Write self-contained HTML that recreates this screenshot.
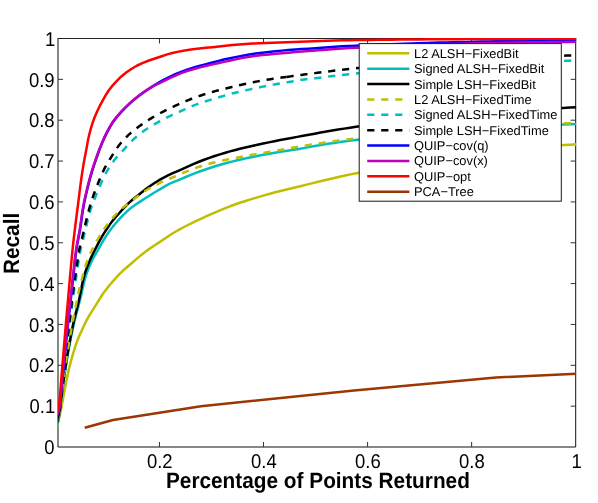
<!DOCTYPE html>
<html lang="en">
<head>
<meta charset="utf-8">
<title>Recall vs Percentage of Points Returned</title>
<style>
html,body{margin:0;padding:0;background:#ffffff;}
body{width:598px;height:503px;overflow:hidden;font-family:"Liberation Sans",sans-serif;}
svg{display:block;will-change:transform;}
text{text-rendering:geometricPrecision;}
</style>
</head>
<body>
<svg width="598" height="503" viewBox="0 0 598 503">
<defs><clipPath id="ax"><rect x="58.00" y="38.00" width="518.20" height="409.50"/></clipPath></defs>
<rect width="598" height="503" fill="#ffffff"/>
<g stroke="#000000" stroke-width="1" fill="none" stroke-opacity="1">
<path d="M58.00 38.00 V447.00 H575.70 V38.00" stroke="#000000" stroke-width="1" stroke-opacity="0.94" stroke-linejoin="miter"/>
<path d="M58.00 38.50 H576.20" stroke="#222222" stroke-width="1"/>
<path d="M58.00 406.15 h5.00 M575.70 406.15 h-5.00 M58.00 365.30 h5.00 M575.70 365.30 h-5.00 M58.00 324.45 h5.00 M575.70 324.45 h-5.00 M58.00 283.60 h5.00 M575.70 283.60 h-5.00 M58.00 242.75 h5.00 M575.70 242.75 h-5.00 M58.00 201.90 h5.00 M575.70 201.90 h-5.00 M58.00 161.05 h5.00 M575.70 161.05 h-5.00 M58.00 120.20 h5.00 M575.70 120.20 h-5.00 M58.00 79.35 h5.00 M575.70 79.35 h-5.00 M159.46 447.00 v-5.00 M159.46 38.50 v5.00 M263.52 447.00 v-5.00 M263.52 38.50 v5.00 M367.58 447.00 v-5.00 M367.58 38.50 v5.00 M471.64 447.00 v-5.00 M471.64 38.50 v5.00" stroke="#333333"/>
</g>
<g clip-path="url(#ax)" fill="none" stroke-width="2.50" stroke-linejoin="round">
<path d="M55.60 433.50 L55.83 432.45 L56.16 430.91 L56.56 429.11 L57.00 427.12 L57.49 424.98 L58.02 422.70 L58.58 420.31 L59.17 417.82 L59.75 415.22 L60.32 412.53 L60.90 409.75 L61.47 406.90 L62.04 403.96 L62.62 400.96 L63.19 397.89 L63.74 394.75 L64.31 391.55 L64.92 388.30 L65.56 385.00 L66.24 381.66 L66.94 378.26 L67.68 374.83 L68.45 371.34 L69.26 367.82 L70.13 364.27 L71.07 360.70 L72.08 357.09 L73.15 353.46 L74.26 349.80 L75.42 346.11 L76.69 342.41 L78.11 338.74 L79.68 335.08 L81.30 331.40 L83.00 327.72 L84.77 324.04 L86.61 320.35 L88.57 316.69 L90.76 313.12 L93.04 309.57 L95.28 305.96 L97.54 302.31 L99.83 298.66 L102.15 294.98 L104.64 291.40 L107.33 287.91 L110.15 284.49 L113.05 281.10 L116.05 277.75 L119.15 274.46 L122.37 271.28 L125.75 268.20 L129.22 265.19 L132.75 262.19 L136.29 259.17 L139.86 256.14 L143.50 253.18 L147.27 250.35 L151.17 247.65 L155.15 245.01 L159.16 242.36 L163.16 239.67 L167.18 236.95 L171.25 234.29 L175.42 231.76 L179.69 229.35 L184.04 227.02 L188.46 224.76 L192.93 222.55 L197.43 220.38 L201.98 218.27 L206.58 216.19 L211.22 214.16 L215.89 212.16 L220.60 210.17 L225.33 208.20 L230.11 206.29 L234.95 204.49 L239.85 202.80 L244.80 201.20 L249.80 199.66 L254.82 198.14 L259.86 196.64 L264.93 195.16 L270.04 193.72 L275.17 192.33 L280.34 191.02 L285.55 189.76 L290.78 188.51 L296.02 187.25 L301.28 185.96 L306.55 184.65 L311.84 183.34 L317.15 182.04 L322.48 180.76 L327.83 179.51 L333.21 178.27 L338.60 177.03 L344.02 175.82 L349.46 174.64 L354.93 173.50 L360.42 172.43 L365.94 171.38 L371.47 170.36 L377.03 169.34 L382.61 168.34 L388.21 167.36 L393.83 166.39 L399.46 165.44 L405.12 164.51 L410.80 163.59 L416.49 162.69 L422.20 161.81 L427.93 160.94 L433.68 160.10 L439.44 159.27 L445.22 158.46 L451.01 157.66 L456.82 156.89 L462.66 156.15 L468.51 155.42 L474.38 154.71 L480.26 154.02 L486.17 153.34 L492.08 152.67 L498.02 152.01 L503.97 151.35 L509.93 150.70 L515.91 150.05 L521.90 149.39 L527.90 148.72 L533.92 148.04 L539.95 147.36 L545.99 146.71 L552.06 146.11 L558.14 145.56 L564.24 145.08 L570.36 144.66 L576.50 144.30" stroke="#bfbf00"/>
<path d="M55.60 430.50 L55.93 429.40 L56.41 427.80 L56.93 425.91 L57.47 423.82 L58.04 421.55 L58.60 419.13 L59.12 416.57 L59.54 413.89 L59.90 411.09 L60.22 408.19 L60.53 405.18 L60.85 402.10 L61.23 398.95 L61.64 395.73 L62.07 392.44 L62.51 389.08 L62.98 385.66 L63.46 382.18 L63.96 378.65 L64.49 375.06 L65.04 371.42 L65.61 367.73 L66.21 363.99 L66.83 360.20 L67.48 356.37 L68.15 352.50 L68.86 348.59 L69.59 344.63 L70.35 340.64 L71.14 336.61 L71.97 332.54 L72.84 328.44 L73.75 324.32 L74.74 320.17 L75.80 316.00 L76.91 311.80 L78.04 307.57 L79.16 303.30 L80.25 298.98 L81.27 294.61 L82.25 290.19 L83.25 285.74 L84.32 281.29 L85.54 276.86 L86.98 272.45 L88.65 268.07 L90.51 263.73 L92.54 259.47 L94.84 255.30 L97.26 251.14 L99.64 246.94 L102.03 242.70 L104.53 238.51 L107.20 234.40 L110.04 230.35 L113.04 226.40 L116.24 222.56 L119.60 218.83 L123.09 215.19 L126.73 211.64 L130.56 208.31 L134.67 205.27 L138.96 202.40 L143.27 199.55 L147.66 196.77 L152.08 194.00 L156.55 191.26 L161.07 188.57 L165.65 185.90 L170.34 183.44 L175.24 181.32 L180.21 179.31 L185.17 177.23 L190.16 175.15 L195.20 173.16 L200.30 171.27 L205.46 169.45 L210.67 167.70 L215.92 166.05 L221.22 164.49 L226.57 163.01 L231.97 161.60 L237.39 160.27 L242.86 159.02 L248.37 157.83 L253.91 156.68 L259.46 155.56 L265.05 154.46 L270.66 153.41 L276.31 152.43 L281.99 151.55 L287.69 150.71 L293.42 149.85 L299.14 148.91 L304.88 147.89 L310.63 146.84 L316.39 145.79 L322.18 144.78 L328.00 143.85 L333.85 142.96 L339.72 142.10 L345.62 141.27 L351.54 140.49 L357.48 139.77 L363.44 139.11 L369.42 138.47 L375.42 137.86 L381.44 137.26 L387.49 136.69 L393.55 136.13 L399.63 135.59 L405.73 135.06 L411.84 134.54 L417.98 134.03 L424.13 133.54 L430.30 133.04 L436.48 132.56 L442.68 132.07 L448.89 131.59 L455.12 131.10 L461.37 130.62 L467.63 130.14 L473.91 129.67 L480.20 129.21 L486.51 128.75 L492.84 128.31 L499.18 127.88 L505.54 127.47 L511.91 127.07 L518.30 126.70 L524.71 126.34 L531.13 125.99 L537.56 125.65 L544.01 125.33 L550.48 125.01 L556.96 124.71 L563.46 124.43 L569.97 124.16 L576.50 123.90" stroke="#00bfbf"/>
<path d="M55.60 427.00 L55.95 425.90 L56.45 424.29 L57.03 422.40 L57.67 420.31 L58.39 418.06 L59.06 415.65 L59.53 413.09 L59.90 410.38 L60.21 407.54 L60.50 404.60 L60.82 401.57 L61.19 398.47 L61.59 395.29 L62.00 392.04 L62.43 388.72 L62.87 385.34 L63.34 381.89 L63.82 378.39 L64.33 374.82 L64.85 371.20 L65.39 367.53 L65.96 363.81 L66.55 360.03 L67.16 356.21 L67.80 352.35 L68.47 348.45 L69.17 344.50 L69.90 340.51 L70.67 336.48 L71.47 332.42 L72.30 328.32 L73.17 324.19 L74.12 320.04 L75.13 315.86 L76.18 311.64 L77.24 307.40 L78.28 303.11 L79.27 298.77 L80.18 294.37 L81.04 289.92 L81.92 285.44 L82.87 280.96 L83.97 276.49 L85.30 272.05 L86.87 267.62 L88.60 263.22 L90.47 258.87 L92.55 254.57 L94.71 250.27 L96.87 245.94 L99.09 241.61 L101.48 237.34 L104.09 233.17 L106.80 229.02 L109.57 224.87 L112.54 220.86 L115.78 217.01 L119.16 213.24 L122.57 209.46 L126.05 205.71 L129.72 202.13 L133.64 198.79 L137.72 195.57 L141.82 192.33 L145.93 189.09 L150.15 185.96 L154.53 183.00 L159.05 180.21 L163.71 177.63 L168.50 175.22 L173.37 172.96 L178.34 170.83 L183.29 168.61 L188.23 166.32 L193.22 164.09 L198.30 162.01 L203.44 160.02 L208.64 158.11 L213.89 156.30 L219.19 154.59 L224.54 152.96 L229.95 151.41 L235.39 149.95 L240.88 148.58 L246.41 147.29 L251.97 146.04 L257.55 144.80 L263.15 143.56 L268.78 142.35 L274.44 141.17 L280.12 140.06 L285.84 138.99 L291.58 137.93 L297.33 136.87 L303.10 135.79 L308.89 134.71 L314.71 133.65 L320.54 132.60 L326.40 131.58 L332.27 130.58 L338.17 129.60 L344.09 128.62 L350.03 127.65 L356.00 126.73 L361.99 125.89 L368.00 125.09 L374.03 124.31 L380.09 123.54 L386.16 122.79 L392.25 122.06 L398.37 121.34 L404.50 120.64 L410.65 119.96 L416.82 119.29 L423.01 118.64 L429.21 118.00 L435.44 117.39 L441.67 116.78 L447.93 116.19 L454.20 115.62 L460.49 115.06 L466.80 114.51 L473.12 113.98 L479.46 113.47 L485.82 112.96 L492.20 112.47 L498.59 112.00 L505.00 111.53 L511.42 111.08 L517.86 110.64 L524.31 110.22 L530.78 109.80 L537.27 109.39 L543.77 108.99 L550.28 108.61 L556.81 108.24 L563.36 107.88 L569.92 107.53 L576.50 107.20" stroke="#000000"/>
<path d="M55.60 428.00 L55.69 427.72 L55.83 427.32 L55.98 426.84 L56.15 426.32 L56.33 425.75 L56.52 425.14 L56.72 424.51 L56.92 423.84 L57.12 423.15 L57.32 422.43 L57.53 421.69 L57.74 420.93 L57.96 420.15 L58.18 419.34 L58.39 418.52 L58.60 417.68 L58.80 416.83 L58.99 415.95 L59.16 415.06 L59.30 414.15 L59.44 413.23 L59.57 412.28 L59.69 411.33 L59.81 410.36 L59.92 409.37 L60.03 408.37 L60.13 407.36 L60.23 406.34 L60.34 405.30 L60.44 404.26 L60.55 403.20 L60.66 402.14 L60.78 401.06 L60.90 399.98 L61.03 398.89 L61.17 397.79 L61.30 396.68 L61.44 395.57 L61.58 394.44 L61.72 393.30 L61.86 392.16 L62.00 391.01 L62.15 389.85 L62.30 388.68 L62.45 387.50 L62.60 386.32 L62.75 385.13 L62.91 383.93 L63.07 382.72 L63.22 381.51 L63.39 380.29 L63.55 379.06 L63.72 377.82 L63.88 376.58 L64.05 375.33 L64.23 374.08 L64.40 372.82 L64.58 371.55 L64.76 370.28 L64.94 368.99 L65.12 367.71 L65.31 366.41 L65.50 365.12 L65.69 363.81 L65.88 362.50 L66.08 361.18 L66.28 359.86 L66.48 358.53 L66.68 357.20 L66.88 355.86 L67.09 354.51 L67.30 353.16 L67.51 351.80 L67.73 350.44 L67.95 349.08 L68.17 347.71 L68.40 346.33 L68.62 344.95 L68.86 343.56 L69.09 342.17 L69.33 340.77 L69.57 339.37 L69.82 337.97 L70.07 336.56 L70.32 335.14 L70.57 333.72 L70.82 332.30 L71.08 330.87 L71.34 329.43 L71.60 328.00 L71.87 326.55 L72.14 325.11 L72.41 323.66 L72.69 322.20 L72.96 320.74 L73.24 319.27 L73.51 317.80 L73.80 316.33 L74.08 314.85 L74.36 313.37 L74.65 311.88 L74.94 310.39 L75.23 308.90 L75.52 307.40 L75.82 305.90 L76.11 304.39 L76.40 302.88 L76.70 301.36 L77.00 299.84 L77.30 298.32 L77.62 296.79 L77.94 295.26 L78.28 293.74 L78.62 292.20 L78.98 290.67 L79.34 289.13 L79.71 287.59 L80.08 286.05 L80.47 284.51 L80.85 282.96 L81.24 281.41 L81.64 279.86 L82.03 278.30 L82.42 276.73 L82.82 275.16 L83.22 273.59 L83.63 272.02 L84.06 270.46 L84.52 268.89 L84.99 267.34 L85.50 265.79 L86.04 264.24 L86.60 262.70 L87.19 261.15 L87.81 259.62 L88.44 258.08 L89.09 256.55 L89.75 255.02 L90.43 253.50 L91.11 251.97 L91.81 250.46 L92.54 248.95 L93.29 247.44 L94.06 245.94 L94.85 244.44 L95.65 242.95 L96.46 241.47 L97.29 239.99 L98.13 238.51 L98.99 237.03 L99.87 235.56 L100.76 234.09 L101.67 232.64 L102.60 231.19 L103.55 229.76 L104.53 228.34 L105.53 226.94 L106.55 225.54 L107.60 224.15 L108.67 222.77 L109.76 221.41 L110.87 220.06 L111.99 218.72 L113.14 217.40 L114.31 216.09 L115.50 214.79 L116.71 213.50 L117.94 212.23 L119.20 210.99 L120.48 209.77 L121.79 208.59 L123.14 207.44 L124.51 206.31 L125.91 205.21 L127.33 204.11 L128.76 203.03 L130.20 201.94 L131.63 200.86 L133.05 199.76 L134.48 198.65 L135.91 197.54 L137.35 196.43 L138.79 195.33 L140.25 194.25 L141.72 193.19 L143.22 192.16 L144.73 191.16 L146.27 190.20 L147.83 189.27 L149.42 188.36 L151.03 187.47 L152.65 186.60 L154.29 185.74 L155.94 184.90 L157.59 184.08 L159.25 183.27 L160.92 182.48 L162.60 181.70 L164.30 180.94 L166.00 180.20 L167.71 179.46 L169.43 178.74 L171.16 178.01 L172.88 177.29 L174.61 176.56 L176.34 175.83 L178.07 175.09 L179.80 174.35 L181.53 173.60 L183.27 172.86 L185.01 172.12 L186.76 171.39 L188.52 170.68 L190.28 169.98 L192.06 169.30 L193.84 168.65 L195.63 168.02 L197.43 167.40 L199.25 166.80 L201.07 166.21 L202.90 165.63 L204.73 165.06 L206.58 164.51 L208.43 163.97 L210.29 163.46 L212.15 162.95 L214.02 162.47 L215.89 162.01 L217.77 161.56 L219.66 161.13 L221.56 160.72 L223.46 160.32 L225.37 159.93 L227.29 159.54 L229.20 159.17 L231.12 158.79 L233.05 158.42 L234.97 158.04 L236.90 157.67 L238.82 157.30 L240.76 156.94 L242.69 156.58 L244.63 156.22 L246.58 155.87 L248.52 155.52 L250.47 155.17 L252.42 154.82 L254.37 154.47 L256.33 154.12 L258.28 153.77 L260.25 153.42 L262.21 153.08 L264.18 152.74 L266.14 152.40 L268.12 152.05 L270.09 151.71 L272.06 151.37 L274.04 151.02 L276.02 150.67 L278.00 150.32 L279.98 149.96 L281.97 149.61 L283.96 149.25 L285.95 148.89 L287.94 148.53 L289.93 148.18 L291.93 147.83 L293.93 147.48 L295.94 147.14 L297.94 146.80 L299.95 146.47 L301.96 146.13 L303.98 145.80 L306.00 145.46 L308.02 145.13 L310.04 144.81 L312.06 144.48 L314.09 144.16 L316.12 143.84 L318.16 143.52 L320.19 143.21 L322.23 142.90 L324.27 142.60 L326.32 142.30 L328.36 142.00 L330.41 141.71 L332.46 141.42 L334.52 141.13 L336.58 140.84 L338.64 140.55 L340.70 140.27 L342.77 139.99 L344.83 139.72 L346.90 139.45 L348.98 139.18 L351.05 138.92 L353.13 138.67 L355.21 138.43 L357.30 138.19 L359.39 137.96 L361.47 137.73 L363.57 137.51 L365.66 137.29 L367.76 137.07 L369.86 136.85 L371.96 136.64 L374.06 136.43 L376.17 136.22 L378.28 136.01 L380.39 135.80 L382.50 135.60 L384.62 135.40 L386.74 135.20 L388.86 135.00 L390.98 134.81 L393.11 134.61 L395.23 134.42 L397.36 134.23 L399.49 134.04 L400.00 133.99" stroke="#bfbf00" stroke-dasharray="7.2 6.8" stroke-dashoffset="4.10"/>
<path d="M400.00 133.99 L401.63 133.85 L403.76 133.67 L405.90 133.48 L408.04 133.30 L410.19 133.12 L412.33 132.94 L414.48 132.76 L416.63 132.58 L418.78 132.41 L420.93 132.23 L423.09 132.06 L425.25 131.89 L427.40 131.72 L429.57 131.55 L431.73 131.38 L433.90 131.21 L436.06 131.05 L438.23 130.88 L440.40 130.72 L442.58 130.55 L444.75 130.39 L446.93 130.23 L449.11 130.07 L451.29 129.91 L453.47 129.75 L455.65 129.59 L457.84 129.43 L460.03 129.27 L462.22 129.12 L464.41 128.96 L466.61 128.81 L468.81 128.66 L471.00 128.50 L473.21 128.35 L475.41 128.20 L477.61 128.06 L479.82 127.91 L482.03 127.76 L484.24 127.62 L486.45 127.48 L488.67 127.34 L490.88 127.20 L493.10 127.06 L495.32 126.92 L497.54 126.78 L499.77 126.65 L501.99 126.52 L504.22 126.38 L506.45 126.25 L508.68 126.13 L510.92 126.00 L513.15 125.87 L515.39 125.75 L517.63 125.63 L519.87 125.51 L522.11 125.39 L524.36 125.27 L526.61 125.15 L528.85 125.04 L531.10 124.92 L533.36 124.81 L535.61 124.70 L537.87 124.59 L540.12 124.48 L542.38 124.37 L544.65 124.26 L546.91 124.15 L549.17 124.05 L551.44 123.94 L553.71 123.84 L555.98 123.74 L558.25 123.64 L560.53 123.54 L562.80 123.45 L565.08 123.35 L567.36 123.26 L569.64 123.17 L571.93 123.08 L574.21 122.99 L576.50 122.90" stroke="#bfbf00" stroke-dasharray="7.2 6.8" stroke-dashoffset="3.74"/>
<path d="M55.60 425.30 L55.70 425.00 L55.84 424.56 L56.01 424.05 L56.19 423.48 L56.39 422.87 L56.59 422.22 L56.80 421.53 L57.01 420.81 L57.23 420.06 L57.44 419.29 L57.67 418.49 L57.91 417.66 L58.15 416.82 L58.39 415.95 L58.63 415.07 L58.85 414.16 L59.05 413.23 L59.22 412.29 L59.37 411.32 L59.50 410.34 L59.63 409.34 L59.75 408.32 L59.86 407.29 L59.97 406.24 L60.07 405.18 L60.16 404.10 L60.26 403.01 L60.35 401.90 L60.43 400.78 L60.52 399.65 L60.61 398.51 L60.69 397.35 L60.78 396.19 L60.87 395.01 L60.96 393.83 L61.06 392.63 L61.17 391.43 L61.28 390.22 L61.40 389.00 L61.52 387.77 L61.64 386.53 L61.77 385.29 L61.89 384.03 L62.02 382.77 L62.15 381.49 L62.28 380.21 L62.42 378.92 L62.55 377.62 L62.69 376.32 L62.84 375.00 L62.98 373.68 L63.13 372.35 L63.28 371.02 L63.44 369.68 L63.60 368.33 L63.76 366.97 L63.93 365.60 L64.10 364.23 L64.28 362.85 L64.46 361.47 L64.64 360.08 L64.82 358.68 L65.01 357.28 L65.20 355.86 L65.39 354.45 L65.59 353.02 L65.78 351.59 L65.98 350.16 L66.18 348.71 L66.38 347.27 L66.59 345.81 L66.81 344.35 L67.02 342.89 L67.24 341.41 L67.46 339.94 L67.69 338.45 L67.91 336.97 L68.13 335.47 L68.34 333.97 L68.56 332.46 L68.77 330.95 L68.98 329.43 L69.18 327.90 L69.38 326.37 L69.58 324.83 L69.77 323.28 L69.97 321.73 L70.16 320.18 L70.35 318.62 L70.55 317.05 L70.74 315.48 L70.94 313.90 L71.14 312.32 L71.34 310.74 L71.55 309.15 L71.76 307.55 L71.97 305.95 L72.18 304.35 L72.39 302.73 L72.60 301.12 L72.82 299.50 L73.03 297.88 L73.26 296.25 L73.48 294.61 L73.71 292.98 L73.94 291.33 L74.17 289.69 L74.41 288.04 L74.66 286.39 L74.91 284.73 L75.16 283.07 L75.42 281.40 L75.68 279.73 L75.94 278.06 L76.20 276.38 L76.47 274.69 L76.74 273.01 L77.01 271.32 L77.28 269.62 L77.54 267.92 L77.81 266.21 L78.07 264.50 L78.33 262.79 L78.60 261.07 L78.87 259.35 L79.15 257.62 L79.44 255.89 L79.74 254.17 L80.05 252.44 L80.38 250.71 L80.73 248.98 L81.11 247.25 L81.52 245.53 L81.95 243.80 L82.39 242.07 L82.84 240.34 L83.29 238.60 L83.74 236.86 L84.17 235.12 L84.60 233.36 L85.01 231.61 L85.43 229.84 L85.84 228.08 L86.25 226.31 L86.68 224.53 L87.11 222.76 L87.55 220.99 L88.00 219.21 L88.45 217.42 L88.91 215.64 L89.38 213.85 L89.87 212.07 L90.39 210.30 L90.95 208.53 L91.54 206.78 L92.18 205.03 L92.84 203.28 L93.53 201.54 L94.23 199.80 L94.94 198.06 L95.65 196.31 L96.35 194.57 L97.06 192.82 L97.78 191.07 L98.50 189.32 L99.24 187.57 L99.99 185.82 L100.75 184.08 L101.54 182.34 L102.33 180.60 L103.14 178.86 L103.96 177.11 L104.79 175.38 L105.66 173.66 L106.56 171.95 L107.50 170.28 L108.48 168.62 L109.52 166.99 L110.59 165.36 L111.71 163.76 L112.85 162.18 L114.03 160.61 L115.22 159.07 L116.45 157.56 L117.73 156.08 L119.04 154.62 L120.38 153.17 L121.73 151.73 L123.09 150.29 L124.44 148.84 L125.78 147.39 L127.12 145.92 L128.47 144.46 L129.84 143.00 L131.22 141.57 L132.63 140.17 L134.08 138.80 L135.56 137.47 L137.08 136.16 L138.63 134.88 L140.21 133.62 L141.82 132.39 L143.44 131.20 L145.09 130.04 L146.76 128.92 L148.46 127.83 L150.19 126.77 L151.95 125.73 L153.71 124.71 L155.48 123.70 L157.26 122.70 L159.04 121.70 L160.84 120.72 L162.64 119.75 L164.46 118.79 L166.29 117.85 L168.12 116.93 L169.97 116.02 L171.83 115.14 L173.71 114.28 L175.60 113.43 L177.49 112.59 L179.39 111.76 L181.29 110.92 L183.19 110.06 L185.09 109.20 L186.98 108.33 L188.89 107.46 L190.80 106.62 L192.73 105.80 L194.67 105.04 L196.63 104.31 L198.61 103.61 L200.61 102.94 L202.61 102.28 L204.63 101.64 L206.64 101.00 L208.66 100.36 L210.68 99.73 L212.71 99.12 L214.74 98.51 L216.78 97.91 L218.83 97.31 L220.87 96.72 L222.92 96.13 L224.97 95.54 L227.03 94.95 L229.09 94.37 L231.16 93.80 L233.23 93.25 L235.32 92.72 L237.41 92.22 L239.50 91.73 L241.61 91.25 L243.72 90.78 L245.83 90.32 L247.94 89.85 L250.05 89.37 L252.17 88.90 L254.29 88.43 L256.42 87.97 L258.55 87.51 L260.68 87.07 L262.82 86.64 L264.96 86.21 L267.11 85.80 L269.26 85.40 L271.42 85.00 L273.57 84.61 L275.74 84.22 L277.90 83.84 L280.07 83.47 L282.25 83.10 L284.42 82.74 L286.60 82.38 L288.78 82.02 L290.97 81.65 L293.15 81.28 L295.34 80.91 L297.53 80.54 L299.72 80.18 L301.92 79.84 L304.13 79.53 L306.34 79.24 L308.55 78.97 L310.77 78.70 L313.00 78.45 L315.22 78.19 L317.45 77.92 L319.67 77.64 L321.90 77.35 L324.13 77.06 L326.36 76.77 L328.60 76.48 L330.84 76.20 L333.08 75.94 L335.32 75.67 L337.57 75.42 L339.82 75.16 L342.08 74.91 L344.33 74.67 L346.59 74.43 L348.85 74.20 L351.12 73.97 L353.39 73.74 L355.66 73.52 L357.93 73.30 L360.20 73.09 L362.48 72.87 L364.76 72.65 L367.04 72.43 L369.33 72.22 L371.61 72.00 L373.90 71.78 L376.19 71.56 L378.49 71.35 L380.78 71.13 L383.08 70.92 L385.38 70.70 L387.68 70.49 L389.98 70.28 L392.29 70.07 L394.60 69.87 L396.91 69.66 L399.23 69.46 L400.00 69.39" stroke="#00bfbf" stroke-dasharray="7.2 6.8" stroke-dashoffset="-5.50"/>
<path d="M400.00 69.39 L401.54 69.26 L403.86 69.07 L406.18 68.87 L408.50 68.68 L410.83 68.50 L413.16 68.31 L415.49 68.13 L417.82 67.96 L420.15 67.79 L422.49 67.62 L424.83 67.45 L427.17 67.29 L429.52 67.12 L431.86 66.96 L434.21 66.79 L436.56 66.63 L438.91 66.47 L441.27 66.31 L443.63 66.15 L445.99 66.00 L448.35 65.84 L450.71 65.69 L453.08 65.53 L455.45 65.38 L457.82 65.24 L460.19 65.09 L462.57 64.94 L464.94 64.80 L467.32 64.66 L469.70 64.52 L472.09 64.39 L474.47 64.25 L476.86 64.12 L479.25 63.99 L481.64 63.87 L484.03 63.75 L486.43 63.62 L488.83 63.51 L491.23 63.39 L493.63 63.28 L496.03 63.17 L498.44 63.07 L500.85 62.96 L503.26 62.86 L505.67 62.76 L508.08 62.66 L510.50 62.57 L512.92 62.47 L515.34 62.37 L517.76 62.28 L520.19 62.18 L522.61 62.09 L525.04 62.00 L527.47 61.91 L529.90 61.82 L532.34 61.74 L534.77 61.65 L537.21 61.57 L539.65 61.48 L542.10 61.40 L544.54 61.33 L546.99 61.25 L549.44 61.17 L551.89 61.10 L554.34 61.03 L556.79 60.96 L559.25 60.90 L561.71 60.83 L564.17 60.77 L566.63 60.71 L569.10 60.66 L571.56 60.60 L574.03 60.55 L576.50 60.50" stroke="#00bfbf" stroke-dasharray="7.2 6.8" stroke-dashoffset="3.65"/>
<path d="M55.60 425.00 L55.70 424.70 L55.85 424.26 L56.02 423.74 L56.20 423.17 L56.40 422.55 L56.60 421.89 L56.81 421.19 L57.02 420.47 L57.24 419.71 L57.46 418.93 L57.69 418.12 L57.93 417.29 L58.18 416.44 L58.42 415.57 L58.65 414.67 L58.88 413.76 L59.08 412.82 L59.24 411.87 L59.38 410.89 L59.51 409.90 L59.64 408.89 L59.75 407.87 L59.86 406.82 L59.96 405.76 L60.06 404.69 L60.15 403.60 L60.24 402.50 L60.33 401.38 L60.41 400.25 L60.49 399.11 L60.58 397.95 L60.66 396.79 L60.74 395.61 L60.83 394.43 L60.92 393.23 L61.02 392.02 L61.13 390.81 L61.24 389.59 L61.35 388.36 L61.47 387.12 L61.59 385.87 L61.71 384.61 L61.83 383.34 L61.95 382.06 L62.08 380.78 L62.21 379.48 L62.34 378.18 L62.47 376.87 L62.61 375.55 L62.74 374.23 L62.88 372.89 L63.03 371.55 L63.18 370.20 L63.33 368.85 L63.49 367.49 L63.65 366.12 L63.81 364.74 L63.98 363.35 L64.15 361.96 L64.33 360.56 L64.50 359.16 L64.69 357.75 L64.87 356.33 L65.05 354.91 L65.24 353.47 L65.43 352.04 L65.62 350.59 L65.81 349.14 L66.01 347.69 L66.22 346.22 L66.42 344.76 L66.64 343.28 L66.85 341.80 L67.07 340.32 L67.28 338.82 L67.50 337.33 L67.71 335.82 L67.92 334.31 L68.13 332.80 L68.34 331.27 L68.53 329.74 L68.72 328.21 L68.91 326.66 L69.10 325.12 L69.28 323.56 L69.46 322.00 L69.63 320.43 L69.81 318.86 L69.99 317.28 L70.17 315.70 L70.35 314.11 L70.54 312.52 L70.73 310.92 L70.92 309.32 L71.11 307.72 L71.31 306.10 L71.50 304.49 L71.70 302.86 L71.90 301.24 L72.10 299.61 L72.30 297.97 L72.51 296.33 L72.71 294.68 L72.93 293.03 L73.14 291.38 L73.36 289.72 L73.59 288.06 L73.82 286.39 L74.06 284.72 L74.30 283.05 L74.54 281.37 L74.78 279.69 L75.03 278.00 L75.28 276.31 L75.53 274.61 L75.79 272.91 L76.04 271.20 L76.29 269.49 L76.53 267.78 L76.78 266.06 L77.01 264.33 L77.25 262.60 L77.50 260.86 L77.74 259.13 L78.00 257.39 L78.26 255.64 L78.54 253.90 L78.83 252.16 L79.14 250.41 L79.48 248.67 L79.85 246.93 L80.25 245.19 L80.67 243.45 L81.11 241.70 L81.56 239.96 L82.01 238.21 L82.45 236.45 L82.88 234.69 L83.30 232.93 L83.71 231.16 L84.13 229.38 L84.54 227.60 L84.96 225.82 L85.39 224.03 L85.82 222.25 L86.26 220.46 L86.70 218.66 L87.14 216.87 L87.59 215.07 L88.05 213.27 L88.52 211.47 L89.00 209.66 L89.50 207.87 L90.01 206.07 L90.55 204.27 L91.10 202.47 L91.67 200.67 L92.25 198.88 L92.85 197.09 L93.47 195.30 L94.10 193.51 L94.75 191.72 L95.42 189.94 L96.11 188.16 L96.81 186.38 L97.52 184.60 L98.25 182.82 L98.97 181.04 L99.70 179.26 L100.44 177.47 L101.19 175.69 L101.95 173.91 L102.75 172.14 L103.57 170.38 L104.43 168.65 L105.33 166.93 L106.28 165.22 L107.26 163.53 L108.27 161.84 L109.30 160.16 L110.33 158.49 L111.37 156.82 L112.42 155.14 L113.47 153.46 L114.53 151.78 L115.62 150.12 L116.73 148.47 L117.88 146.85 L119.07 145.27 L120.30 143.72 L121.59 142.20 L122.92 140.69 L124.28 139.21 L125.68 137.76 L127.11 136.34 L128.55 134.95 L130.04 133.59 L131.57 132.27 L133.13 130.97 L134.72 129.71 L136.33 128.48 L137.95 127.27 L139.59 126.06 L141.25 124.87 L142.92 123.70 L144.61 122.54 L146.32 121.39 L148.04 120.27 L149.77 119.16 L151.51 118.08 L153.27 117.01 L155.04 115.97 L156.83 114.96 L158.64 113.96 L160.46 112.99 L162.30 112.03 L164.15 111.08 L166.02 110.15 L167.89 109.24 L169.78 108.34 L171.67 107.44 L173.56 106.56 L175.46 105.69 L177.37 104.82 L179.28 103.96 L181.20 103.10 L183.13 102.26 L185.07 101.42 L187.02 100.61 L188.98 99.81 L190.95 99.03 L192.92 98.27 L194.91 97.54 L196.90 96.83 L198.91 96.14 L200.93 95.47 L202.96 94.81 L205.00 94.16 L207.04 93.54 L209.09 92.92 L211.15 92.32 L213.22 91.73 L215.28 91.15 L217.35 90.58 L219.43 90.03 L221.52 89.49 L223.61 88.97 L225.71 88.45 L227.82 87.94 L229.92 87.43 L232.04 86.93 L234.15 86.44 L236.27 85.95 L238.39 85.45 L240.51 84.96 L242.64 84.48 L244.77 84.00 L246.91 83.52 L249.05 83.06 L251.19 82.62 L253.34 82.18 L255.50 81.77 L257.66 81.37 L259.82 80.98 L261.99 80.60 L264.17 80.23 L266.35 79.87 L268.54 79.51 L270.72 79.17 L272.91 78.83 L275.11 78.50 L277.31 78.18 L279.51 77.86 L281.71 77.56 L283.92 77.26 L286.13 76.97 L286.50 76.92" stroke="#000000" stroke-dasharray="7.2 6.8" stroke-dashoffset="-6.25"/>
<path d="M286.50 76.92 L288.35 76.68 L290.57 76.38 L292.79 76.09 L295.01 75.80 L297.23 75.50 L299.46 75.20 L301.69 74.90 L303.92 74.60 L306.15 74.30 L308.38 74.01 L310.62 73.71 L312.86 73.41 L315.11 73.12 L317.35 72.82 L319.60 72.53 L321.85 72.24 L324.11 71.96 L326.36 71.68 L328.62 71.40 L330.88 71.12 L333.15 70.85 L335.41 70.57 L337.68 70.30 L339.96 70.02 L342.23 69.76 L344.51 69.49 L346.79 69.23 L349.07 68.97 L351.35 68.71 L353.64 68.46 L355.93 68.22 L358.23 67.98 L360.52 67.75 L362.82 67.51 L365.12 67.28 L367.43 67.05 L369.73 66.82 L372.04 66.60 L374.35 66.37 L376.66 66.15 L378.98 65.93 L381.30 65.71 L383.62 65.49 L385.94 65.28 L388.27 65.07 L390.60 64.86 L392.93 64.65 L395.26 64.45 L397.60 64.24 L399.93 64.05 L400.00 64.04" stroke="#000000" stroke-dasharray="7.2 6.8" stroke-dashoffset="0.00"/>
<path d="M400.00 64.04 L402.27 63.85 L404.62 63.66 L406.96 63.47 L409.31 63.29 L411.66 63.11 L414.01 62.93 L416.36 62.76 L418.72 62.59 L421.08 62.43 L423.44 62.26 L425.80 62.10 L428.17 61.94 L430.54 61.79 L432.91 61.63 L435.28 61.48 L437.65 61.33 L440.03 61.18 L442.41 61.03 L444.79 60.88 L447.18 60.74 L449.56 60.59 L451.95 60.45 L454.34 60.31 L456.73 60.17 L459.13 60.04 L461.53 59.90 L463.93 59.77 L466.33 59.64 L468.73 59.51 L471.14 59.38 L473.54 59.26 L475.95 59.13 L478.37 59.01 L480.78 58.89 L483.20 58.77 L485.61 58.66 L488.03 58.54 L490.46 58.43 L492.88 58.32 L495.31 58.21 L497.74 58.10 L500.17 57.99 L502.60 57.89 L505.03 57.78 L507.47 57.68 L509.91 57.58 L512.35 57.48 L514.79 57.38 L517.23 57.28 L519.68 57.18 L522.13 57.08 L524.58 56.99 L527.03 56.89 L529.49 56.80 L531.94 56.71 L534.40 56.62 L536.86 56.53 L539.32 56.44 L541.79 56.35 L544.25 56.26 L546.72 56.18 L549.19 56.10 L551.67 56.02 L554.14 55.94 L556.62 55.86 L559.10 55.78 L561.58 55.71 L564.06 55.64 L566.54 55.57 L569.03 55.50 L571.52 55.43 L574.01 55.36 L576.50 55.30" stroke="#000000" stroke-dasharray="7.2 6.8" stroke-dashoffset="3.67"/>
<path d="M55.60 420.00 L55.98 418.77 L56.54 416.96 L57.19 414.85 L57.96 412.52 L58.80 410.01 L59.42 407.30 L59.82 404.39 L60.15 401.32 L60.51 398.15 L60.88 394.87 L61.25 391.49 L61.62 388.02 L61.99 384.45 L62.36 380.80 L62.74 377.08 L63.12 373.27 L63.50 369.40 L63.88 365.45 L64.25 361.44 L64.64 357.36 L65.03 353.22 L65.45 349.03 L65.88 344.77 L66.32 340.47 L66.77 336.10 L67.23 331.69 L67.71 327.23 L68.20 322.71 L68.70 318.15 L69.22 313.55 L69.75 308.89 L70.28 304.19 L70.81 299.45 L71.33 294.66 L71.85 289.83 L72.37 284.96 L72.89 280.04 L73.44 275.09 L73.99 270.10 L74.53 265.06 L75.09 259.99 L75.70 254.89 L76.38 249.77 L77.22 244.63 L78.20 239.48 L79.20 234.29 L80.14 229.06 L80.95 223.77 L81.70 218.44 L82.46 213.07 L83.31 207.70 L84.32 202.31 L85.48 196.92 L86.74 191.52 L88.05 186.11 L89.45 180.68 L90.95 175.25 L92.56 169.82 L94.30 164.39 L96.14 158.98 L98.07 153.56 L100.10 148.14 L102.27 142.75 L104.62 137.42 L107.23 132.16 L110.03 126.97 L113.10 121.91 L116.70 117.20 L120.62 112.68 L124.73 108.32 L129.07 104.15 L133.61 100.14 L138.31 96.29 L143.22 92.69 L148.29 89.26 L153.44 85.89 L158.70 82.66 L164.09 79.62 L169.63 76.78 L175.30 74.18 L181.10 71.81 L187.03 69.70 L193.05 67.80 L199.14 66.07 L205.27 64.37 L211.43 62.72 L217.62 61.09 L223.87 59.59 L230.17 58.20 L236.50 56.90 L242.87 55.65 L249.29 54.53 L255.75 53.57 L262.25 52.73 L268.78 51.96 L275.34 51.25 L281.92 50.63 L288.53 50.09 L295.17 49.59 L301.83 49.11 L308.51 48.64 L315.21 48.15 L321.93 47.67 L328.67 47.20 L335.44 46.77 L342.22 46.37 L349.02 45.99 L355.85 45.65 L362.69 45.34 L369.56 45.04 L376.44 44.75 L383.35 44.47 L390.27 44.20 L397.21 43.94 L404.17 43.69 L411.15 43.45 L418.15 43.22 L425.16 43.00 L432.20 42.79 L439.25 42.58 L446.32 42.39 L453.40 42.21 L460.51 42.04 L467.63 41.88 L474.77 41.72 L481.93 41.56 L489.10 41.42 L496.29 41.28 L503.50 41.15 L510.73 41.04 L517.97 40.93 L525.23 40.83 L532.50 40.73 L539.79 40.64 L547.10 40.56 L554.43 40.48 L561.77 40.41 L569.13 40.35 L576.50 40.30" stroke="#0000ff"/>
<path d="M55.60 420.00 L55.98 418.77 L56.54 416.96 L57.19 414.85 L57.96 412.53 L58.80 410.02 L59.42 407.31 L59.82 404.40 L60.16 401.34 L60.49 398.17 L60.82 394.89 L61.14 391.50 L61.45 388.02 L61.76 384.46 L62.08 380.81 L62.41 377.08 L62.76 373.27 L63.13 369.40 L63.50 365.46 L63.88 361.45 L64.28 357.37 L64.68 353.24 L65.10 349.05 L65.52 344.80 L65.97 340.49 L66.42 336.13 L66.88 331.72 L67.36 327.26 L67.84 322.75 L68.35 318.19 L68.87 313.59 L69.40 308.94 L69.93 304.25 L70.45 299.51 L70.97 294.72 L71.49 289.89 L72.01 285.02 L72.54 280.11 L73.08 275.16 L73.63 270.17 L74.17 265.14 L74.73 260.08 L75.34 254.98 L76.02 249.86 L76.86 244.73 L77.83 239.58 L78.83 234.39 L79.77 229.17 L80.58 223.88 L81.33 218.55 L82.09 213.19 L82.93 207.82 L83.94 202.44 L85.10 197.05 L86.35 191.66 L87.66 186.24 L89.06 180.82 L90.56 175.39 L92.17 169.97 L93.90 164.54 L95.74 159.13 L97.67 153.71 L99.69 148.30 L101.85 142.91 L104.20 137.58 L106.79 132.32 L109.59 127.14 L112.64 122.07 L116.22 117.35 L120.13 112.83 L124.24 108.46 L128.57 104.29 L133.09 100.28 L137.78 96.42 L142.68 92.81 L147.75 89.37 L152.99 86.18 L158.57 83.57 L164.14 80.85 L169.72 78.13 L175.41 75.55 L181.20 73.18 L187.12 71.05 L193.15 69.22 L199.27 67.61 L205.44 66.08 L211.65 64.63 L217.90 63.26 L224.16 61.87 L230.45 60.47 L236.78 59.13 L243.13 57.83 L249.54 56.69 L256.00 55.81 L262.51 55.06 L269.04 54.39 L275.61 53.79 L282.19 53.21 L288.80 52.65 L295.43 52.10 L302.08 51.56 L308.75 51.03 L315.44 50.49 L322.15 49.95 L328.88 49.43 L335.64 48.96 L342.41 48.52 L349.21 48.12 L356.03 47.75 L362.87 47.41 L369.73 47.08 L376.61 46.76 L383.50 46.45 L390.42 46.14 L397.35 45.85 L404.31 45.56 L411.28 45.29 L418.27 45.02 L425.28 44.77 L432.31 44.53 L439.35 44.31 L446.42 44.10 L453.50 43.91 L460.60 43.72 L467.71 43.54 L474.85 43.37 L482.00 43.21 L489.17 43.05 L496.35 42.91 L503.56 42.77 L510.78 42.65 L518.01 42.53 L525.27 42.42 L532.54 42.32 L539.82 42.23 L547.13 42.15 L554.45 42.07 L561.78 41.99 L569.13 41.92 L576.50 41.85" stroke="#bf00bf"/>
<path d="M55.60 416.50 L55.99 415.23 L56.56 413.36 L57.24 411.19 L58.11 408.81 L58.96 406.23 L59.33 403.40 L59.57 400.36 L59.84 397.20 L60.11 393.93 L60.38 390.54 L60.65 387.04 L60.93 383.45 L61.22 379.77 L61.52 376.01 L61.83 372.16 L62.16 368.24 L62.50 364.24 L62.84 360.17 L63.19 356.03 L63.55 351.83 L63.90 347.56 L64.27 343.23 L64.63 338.84 L65.00 334.39 L65.38 329.89 L65.77 325.34 L66.17 320.73 L66.58 316.07 L66.99 311.36 L67.42 306.60 L67.84 301.79 L68.27 296.94 L68.70 292.04 L69.13 287.10 L69.57 282.11 L70.01 277.08 L70.47 272.01 L70.92 266.90 L71.38 261.74 L71.86 256.55 L72.37 251.32 L72.92 246.06 L73.51 240.76 L74.14 235.43 L74.78 230.07 L75.44 224.67 L76.12 219.23 L76.82 213.77 L77.53 208.27 L78.25 202.73 L78.96 197.17 L79.64 191.56 L80.34 185.93 L81.09 180.26 L81.91 174.58 L82.79 168.87 L83.73 163.14 L84.78 157.41 L85.92 151.65 L86.99 145.85 L88.02 140.02 L89.33 134.21 L90.88 128.42 L92.65 122.68 L94.74 117.01 L97.12 111.43 L99.78 105.95 L102.67 100.54 L105.72 95.19 L109.01 89.97 L112.91 85.15 L117.13 80.56 L121.61 76.18 L126.50 72.24 L131.72 68.71 L137.21 65.50 L142.94 62.80 L148.91 60.51 L154.98 58.45 L161.10 56.48 L167.21 54.37 L173.46 52.71 L179.84 51.40 L186.25 50.17 L192.72 49.20 L199.25 48.44 L205.82 47.77 L212.41 47.15 L219.02 46.54 L225.65 45.84 L232.29 45.11 L238.98 44.52 L245.69 44.03 L252.43 43.61 L259.19 43.23 L265.98 42.91 L272.79 42.68 L279.63 42.46 L286.48 42.24 L293.36 42.02 L300.25 41.79 L307.17 41.56 L314.11 41.30 L321.06 41.00 L328.04 40.69 L335.03 40.43 L342.05 40.26 L349.09 40.14 L356.15 40.05 L363.23 39.96 L370.33 39.89 L377.45 39.82 L384.58 39.75 L391.74 39.68 L398.91 39.61 L406.11 39.54 L413.32 39.48 L420.55 39.41 L427.80 39.35 L435.07 39.30 L442.35 39.25 L449.66 39.20 L456.98 39.16 L464.32 39.12 L471.68 39.08 L479.05 39.05 L486.45 39.02 L493.86 38.98 L501.28 38.96 L508.73 38.93 L516.19 38.91 L523.67 38.89 L531.17 38.87 L538.68 38.86 L546.21 38.84 L553.76 38.83 L561.32 38.82 L568.90 38.81 L576.50 38.80" stroke="#ff0000"/>
<path d="M84.70 427.80 L113.00 420.00 L201.00 406.20 L354.00 390.40 L496.00 377.50 L576.50 373.80" stroke="#9c3604"/>
</g>
<g font-family="'Liberation Sans', sans-serif" font-size="18.5" fill="#000000">
<text transform="translate(54.6 454.15) scale(1 1.077)" text-anchor="end">0</text>
<text transform="translate(55.2 413.30) scale(1 1.077)" text-anchor="end">0.1</text>
<text transform="translate(54.6 372.45) scale(1 1.077)" text-anchor="end">0.2</text>
<text transform="translate(54.6 331.60) scale(1 1.077)" text-anchor="end">0.3</text>
<text transform="translate(54.6 290.75) scale(1 1.077)" text-anchor="end">0.4</text>
<text transform="translate(54.6 249.90) scale(1 1.077)" text-anchor="end">0.5</text>
<text transform="translate(54.6 209.05) scale(1 1.077)" text-anchor="end">0.6</text>
<text transform="translate(54.6 168.20) scale(1 1.077)" text-anchor="end">0.7</text>
<text transform="translate(54.6 127.35) scale(1 1.077)" text-anchor="end">0.8</text>
<text transform="translate(54.6 86.50) scale(1 1.077)" text-anchor="end">0.9</text>
<text transform="translate(55.4 45.65) scale(1 1.077)" text-anchor="end">1</text>
<text transform="translate(159.76 467.9) scale(1 1.077)" text-anchor="middle">0.2</text>
<text transform="translate(263.82 467.9) scale(1 1.077)" text-anchor="middle">0.4</text>
<text transform="translate(367.88 467.9) scale(1 1.077)" text-anchor="middle">0.6</text>
<text transform="translate(471.94 467.9) scale(1 1.077)" text-anchor="middle">0.8</text>
<text transform="translate(576.70 467.9) scale(1 1.077)" text-anchor="middle">1</text>
</g>
<g font-family="'Liberation Sans', sans-serif" font-size="20.8" font-weight="bold" fill="#000000">
<text transform="translate(317.9 488.3) scale(1 1.07)" text-anchor="middle">Percentage of Points Returned</text>
<text transform="translate(18.9 243.4) rotate(-90) scale(1 1.07)" text-anchor="middle">Recall</text>
</g>
<rect x="359.20" y="43.60" width="202.10" height="157.60" fill="#ffffff" stroke="#1a1a1a" stroke-width="1"/>
<g fill="none" stroke-width="2.50">
<path d="M367.2 53.30 H409.4" stroke="#bfbf00"/>
<path d="M367.2 68.67 H409.4" stroke="#00bfbf"/>
<path d="M367.2 84.04 H409.4" stroke="#000000"/>
<path d="M367.2 99.41 H409.4" stroke="#bfbf00" stroke-dasharray="7.2 6.8"/>
<path d="M367.2 114.78 H409.4" stroke="#00bfbf" stroke-dasharray="7.2 6.8"/>
<path d="M367.2 130.15 H409.4" stroke="#000000" stroke-dasharray="7.2 6.8"/>
<path d="M367.2 145.52 H409.4" stroke="#0000ff"/>
<path d="M367.2 160.89 H409.4" stroke="#bf00bf"/>
<path d="M367.2 176.26 H409.4" stroke="#ff0000"/>
<path d="M367.2 191.63 H409.4" stroke="#9c3604"/>
</g>
<g font-family="'Liberation Sans', sans-serif" font-size="12.85" fill="#000000">
<text x="414.0" y="57.80">L2 ALSH−FixedBit</text>
<text x="414.0" y="73.17">Signed ALSH−FixedBit</text>
<text x="414.0" y="88.54">Simple LSH−FixedBit</text>
<text x="414.0" y="103.91">L2 ALSH−FixedTime</text>
<text x="414.0" y="119.28">Signed ALSH−FixedTime</text>
<text x="414.0" y="134.65">Simple LSH−FixedTime</text>
<text x="414.0" y="150.02">QUIP−cov(q)</text>
<text x="414.0" y="165.39">QUIP−cov(x)</text>
<text x="414.0" y="180.76">QUIP−opt</text>
<text x="414.0" y="196.13">PCA−Tree</text>
</g>
</svg>
</body>
</html>
